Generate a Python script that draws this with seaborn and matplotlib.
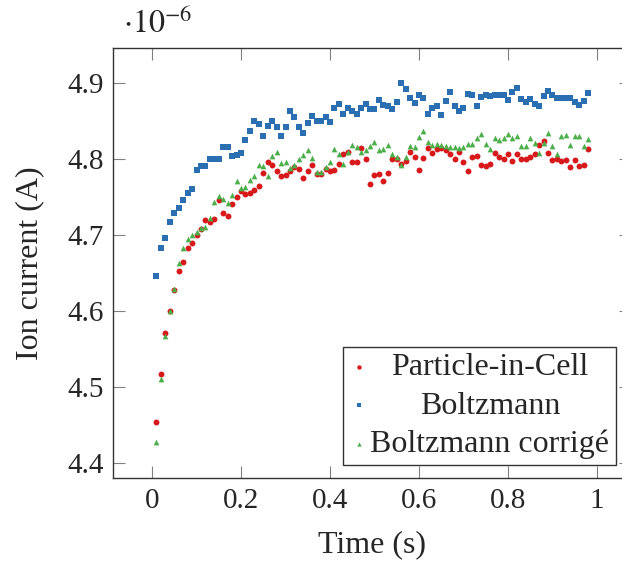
import numpy as np
import pandas as pd
import matplotlib
matplotlib.use("Agg")
import matplotlib.pyplot as plt
import seaborn as sns

# sample times (s), 0.01 .. 0.98
time = [i / 100 for i in range(1, 99)]

# ion current, in units of 1e-6 A
pic = [4.455, 4.518, 4.572, 4.601, 4.628, 4.653, 4.665, 4.683, 4.690, 4.700,
       4.708, 4.720, 4.718, 4.722, 4.747, 4.729, 4.725, 4.741, 4.751, 4.758,
       4.754, 4.756, 4.760, 4.765, 4.782, 4.797, 4.793, 4.784, 4.778, 4.779,
       4.785, 4.790, 4.787, 4.776, 4.784, 4.793, 4.781, 4.781, 4.787, 4.784,
       4.786, 4.794, 4.807, 4.809, 4.797, 4.796, 4.815, 4.801, 4.767, 4.779,
       4.781, 4.772, 4.782, 4.800, 4.801, 4.794, 4.798, 4.810, 4.803, 4.786,
       4.802, 4.815, 4.808, 4.813, 4.815, 4.812, 4.807, 4.801, 4.809, 4.797,
       4.785, 4.803, 4.805, 4.793, 4.791, 4.794, 4.808, 4.803, 4.800, 4.807,
       4.798, 4.807, 4.801, 4.800, 4.803, 4.807, 4.819, 4.824, 4.808, 4.799,
       4.800, 4.798, 4.799, 4.790, 4.799, 4.791, 4.792, 4.814]

boltzmann = [4.646, 4.683, 4.697, 4.718, 4.729, 4.736, 4.747, 4.756, 4.761, 4.786,
             4.791, 4.791, 4.801, 4.800, 4.801, 4.816, 4.816, 4.805, 4.806, 4.808,
             4.826, 4.837, 4.851, 4.847, 4.830, 4.844, 4.851, 4.842, 4.830, 4.842,
             4.864, 4.855, 4.842, 4.835, 4.848, 4.857, 4.851, 4.851, 4.855, 4.849,
             4.867, 4.873, 4.859, 4.868, 4.864, 4.860, 4.867, 4.873, 4.866, 4.866,
             4.878, 4.871, 4.870, 4.866, 4.876, 4.900, 4.892, 4.881, 4.874, 4.885,
             4.880, 4.860, 4.867, 4.870, 4.858, 4.877, 4.888, 4.870, 4.864, 4.867,
             4.886, 4.884, 4.870, 4.882, 4.885, 4.883, 4.885, 4.884, 4.884, 4.878,
             4.888, 4.894, 4.879, 4.875, 4.879, 4.873, 4.870, 4.883, 4.890, 4.884,
             4.880, 4.880, 4.881, 4.881, 4.876, 4.871, 4.877, 4.887]

corrige = [4.428, 4.511, 4.567, 4.601, 4.630, 4.663, 4.684, 4.695, 4.701, 4.705,
           4.710, 4.711, 4.723, 4.744, 4.752, 4.748, 4.743, 4.753, 4.771, 4.762,
           4.763, 4.773, 4.778, 4.793, 4.791, 4.778, 4.804, 4.810, 4.795, 4.797,
           4.788, 4.793, 4.800, 4.806, 4.812, 4.802, 4.783, 4.783, 4.790, 4.796,
           4.814, 4.807, 4.794, 4.809, 4.819, 4.816, 4.810, 4.812, 4.818, 4.823,
           4.812, 4.814, 4.819, 4.807, 4.803, 4.793, 4.803, 4.817, 4.816, 4.829,
           4.837, 4.823, 4.819, 4.820, 4.819, 4.818, 4.816, 4.816, 4.815, 4.816,
           4.820, 4.820, 4.828, 4.833, 4.820, 4.814, 4.828, 4.826, 4.828, 4.833,
           4.828, 4.831, 4.817, 4.817, 4.828, 4.821, 4.808, 4.821, 4.835, 4.818,
           4.807, 4.831, 4.832, 4.819, 4.831, 4.831, 4.817, 4.827]

labels = ["Particle-in-Cell", "Boltzmann", "Boltzmann corrigé"]
xticks = [0, 0.2, 0.4, 0.6, 0.8, 1]
xticklabels = ["0", "0.2", "0.4", "0.6", "0.8", "1"]
yticks = [4.4, 4.5, 4.6, 4.7, 4.8, 4.9]
yticklabels = ["4.4", "4.5", "4.6", "4.7", "4.8", "4.9"]

sns.set_theme(style="ticks")
plt.rcParams["font.family"] = ["Liberation Serif", "DejaVu Serif"]
plt.rcParams["mathtext.fontset"] = "stix"

fig = plt.figure(figsize=(6.22, 5.63), dpi=100)
ax = fig.add_axes([0.1822, 0.1504, 0.8326, 0.7648])

series = [(pic, "o", "#d7191c", 18), (boltzmann, "s", "#2b6fb3", 15), (corrige, "^", "#4daf4a", 17)]
for (vals, mk, col, sz), lab in zip(series, labels):
    df = pd.DataFrame({"time": time, "current": vals})
    sns.scatterplot(data=df, x="time", y="current", marker=mk, color=col, s=sz,
                    linewidth=0, label=lab, ax=ax)

ax.set_xlim(-0.087, 1.077)
ax.set_ylim(4.3805, 4.9467)
ax.set_xticks(xticks)
ax.set_xticklabels(xticklabels)
ax.set_yticks(yticks)
ax.set_yticklabels(yticklabels)
ax.tick_params(direction="in", top=True, right=True, length=8.5, width=0.8,
               color="#808080", labelsize=21, pad=7)
for sp in ax.spines.values():
    sp.set_color("#333333")
    sp.set_linewidth(1.0)

ax.set_xlabel("Time (s)", fontsize=23)
ax.set_ylabel("Ion current (A)", fontsize=23)
ax.xaxis.set_label_coords(0.5, -0.12)
ax.yaxis.set_label_coords(-0.134, 0.5)

ax.text(0.019, 1.034, r"$\cdot 10^{-6}$", transform=ax.transAxes, fontsize=23,
        ha="left", va="baseline")

leg = ax.legend(loc="lower right", bbox_to_anchor=(0.97, 0.03), fontsize=23,
                frameon=True, fancybox=False, borderpad=0.2, labelspacing=0.28,
                handlelength=0.6, handletextpad=0.05, borderaxespad=0,
                markerscale=0.75)
leg.get_frame().set_edgecolor("black")
leg.get_frame().set_linewidth(1.0)

# centre the entry texts like the original legend
fig.canvas.draw()
r = fig.canvas.get_renderer()
widths = [t.get_window_extent(r).width for t in leg.get_texts()]
for t, w in zip(leg.get_texts(), widths):
    t.set_x((max(widths) - w) / 2)

fig.savefig("out.png", dpi=100)
